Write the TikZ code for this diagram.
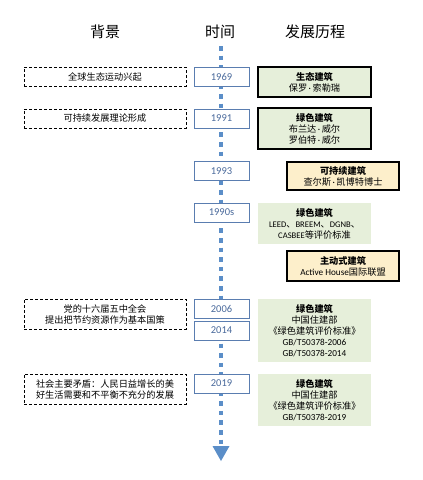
\documentclass[tikz,border=0pt]{standalone}
\usepackage{fontspec}
\setmainfont{Noto Sans CJK SC}
\newfontfamily\lat{Carlito}
\newcommand{\md}{{\lat\,·\,}}
\usetikzlibrary{arrows.meta}
\definecolor{tlblue}{HTML}{5B8EC8}
\definecolor{yrline}{HTML}{5A7DB0}
\definecolor{yrtext}{HTML}{4A6A9C}
\definecolor{grfill}{HTML}{E6EFDA}
\definecolor{orfill}{HTML}{FDEFCB}
\tikzset{
  head/.style={font=\fontsize{15}{18}\selectfont, inner sep=0pt},
  bgbox/.style={draw=black, dashed, dash pattern=on 3pt off 2pt, line width=0.8pt, minimum width=162pt, inner sep=0pt, align=center, font=\fontsize{9.2}{11}\selectfont},
  yrbox/.style={draw=yrline, fill=white, line width=0.9pt, minimum width=55pt, minimum height=19pt, inner sep=0pt, font=\lat\fontsize{10.5}{12}\selectfont, text=yrtext},
  gbox/.style={draw=black, line width=2pt, fill=grfill, minimum width=113pt, inner sep=0pt, align=center, font=\fontsize{9.2}{11}\selectfont},
  gfbox/.style={fill=grfill, minimum width=113pt, inner sep=0pt, align=center, font=\fontsize{9.2}{11}\selectfont},
  obox/.style={draw=black, line width=1.2pt, fill=orfill, minimum width=112pt, inner sep=0pt, align=center, font=\fontsize{9.2}{11}\selectfont},
  tl/.style={draw=tlblue, line width=4.6pt, dash pattern=on 4.6pt off 5pt},
}
\begin{document}
\begin{tikzpicture}[x=1pt,y=-1pt]
\useasboundingbox[fill=white] (0,0) rectangle (423,480);
% headings
\node[head] (h1) at (105,32) {背景};
\node[head] (h2) at (220,32) {时间};
\node[head] (h3) at (315,32) {发展历程};
% timeline
\coordinate (ttop) at (221,46);
\coordinate (tbot) at (221,446);
\coordinate (ttip) at (221,461);
\draw[tl] (ttop) -- (tbot);
\fill[tlblue] (212.5,446) -- (229.5,446) -- (ttip) -- cycle;
% background
\node[bgbox, minimum height=19pt] (b1) at (105,76.5) {全球生态运动兴起};
\node[bgbox, minimum height=19pt] (b2) at (105,118.5) {可持续发展理论形成};
\node[bgbox, minimum height=30pt] (b3) at (105,314) {党的十六届五中全会\\提出把节约资源作为基本国策};
\node[bgbox, minimum height=30pt] (b4) at (105,389) {社会主要矛盾：人民日益增长的美\\好生活需要和不平衡不充分的发展};
% years
\node[yrbox] (y1969) at (221.5,76.5) {1969};
\node[yrbox] (y1991) at (221.5,118.5) {1991};
\node[yrbox] (y1993) at (221.5,171) {1993};
\node[yrbox] (y1990s) at (221.5,212.5) {1990s};
\node[yrbox] (y2006) at (221.5,308.5) {2006};
\node[yrbox] (y2014) at (221.5,330.5) {2014};
\node[yrbox] (y2019) at (221.5,383.5) {2019};
% development
\node[gbox, minimum height=30pt] (r1969) at (314.5,82) {\textbf{生态建筑}\\保罗\md 索勒瑞};
\node[gbox, minimum height=41pt] (r1991) at (314.5,128.5) {\textbf{绿色建筑}\\布兰达\md 威尔\\罗伯特\md 威尔};
\node[obox, minimum height=28pt] (r1993) at (343,176) {\textbf{可持续建筑}\\查尔斯\md 凯博特博士};
\node[gfbox, minimum height=41pt] (r1990s) at (314.5,223.5) {\textbf{绿色建筑}\\{\fontsize{8.6}{11}\selectfont\lat LEED}、{\fontsize{8.6}{11}\selectfont\lat BREEM}、{\fontsize{8.6}{11}\selectfont\lat DGNB}、\\{\fontsize{8.6}{11}\selectfont\lat CASBEE}等评价标准};
\node[obox, minimum height=30pt] (ractive) at (343,266) {\textbf{主动式建筑}\\{\lat Active House}国际联盟};
\node[gfbox, minimum height=63pt] (r2006) at (314.5,330.5) {\textbf{绿色建筑}\\中国住建部\\《绿色建筑评价标准》\\{\lat GB/T50378-2006}\\{\lat GB/T50378-2014}};
\node[gfbox, minimum height=52pt] (r2019) at (314.5,400) {\textbf{绿色建筑}\\中国住建部\\《绿色建筑评价标准》\\{\lat GB/T50378-2019}};
\end{tikzpicture}
\end{document}
